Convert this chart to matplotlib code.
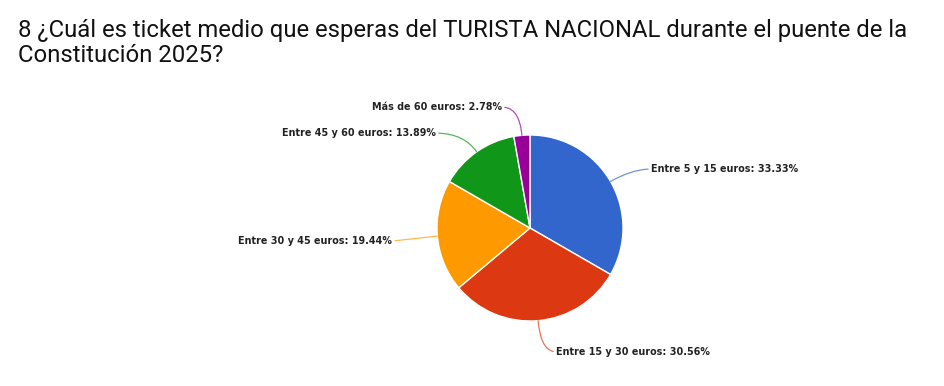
import numpy as np
import matplotlib
matplotlib.use("Agg")
import matplotlib.pyplot as plt

# datos de la encuesta
categorias = ["Entre 5 y 15 euros", "Entre 15 y 30 euros", "Entre 30 y 45 euros",
              "Entre 45 y 60 euros", "Más de 60 euros"]
porcentajes = [33.33, 30.56, 19.44, 13.89, 2.78]
colores = ["#3366CC", "#DC3912", "#FF9900", "#109618", "#990099"]

titulo = ("8 ¿Cuál es ticket medio que esperas del TURISTA NACIONAL durante el puente de la\n"
          "Constitución 2025?")

W, H = 945, 386
fig = plt.figure(figsize=(W / 100, H / 100), dpi=100)

# centro y radio del pastel en pixeles
cx, cy, r = 530, 228, 93
ax = fig.add_axes([(cx - r) / W, (H - cy - r) / H, 2 * r / W, 2 * r / H])

wedges, _ = ax.pie(porcentajes, colors=colores, startangle=90, counterclock=False,
                   wedgeprops=dict(edgecolor="white", linewidth=1.0))
ax.set_xlim(-1, 1)
ax.set_ylim(-1, 1)
ax.set_aspect("equal")
ax.axis("off")

# posicion de cada etiqueta (en radios) y alineacion
pos_texto = [(1.30, 0.634, "left"), (0.28, -1.33, "left"), (-1.48, -0.14, "right"),
             (-1.01, 1.02, "right"), (-0.30, 1.30, "right")]

for w, cat, p, col, (tx, ty, ha) in zip(wedges, categorias, porcentajes, colores, pos_texto):
    ang = (w.theta1 + w.theta2) / 2
    ax_ = np.cos(np.radians(ang))
    ay_ = np.sin(np.radians(ang))
    if abs(np.sin(np.radians(ang))) < 0.2:
        cs = "arc3,rad=0"
    else:
        cs = f"angle3,angleA=0,angleB={ang}"
    ax.annotate(f"{cat}: {p:.2f}%", xy=(ax_, ay_), xytext=(tx, ty),
                ha=ha, va="center", fontsize=6.9, fontweight="bold", color="#222222",
                family="DejaVu Sans", annotation_clip=False,
                arrowprops=dict(arrowstyle="-", color=col, alpha=0.7, lw=0.9,
                                connectionstyle=cs, shrinkA=0, shrinkB=0,
                                relpos=(0, 0.5) if ha == "left" else (1, 0.5)))

fig.text(18 / W, 1 - 19 / H, titulo, ha="left", va="top", fontsize=17.2,
         family="Roboto", color="#111111", linespacing=1.1)

fig.savefig("out.png", dpi=100)
